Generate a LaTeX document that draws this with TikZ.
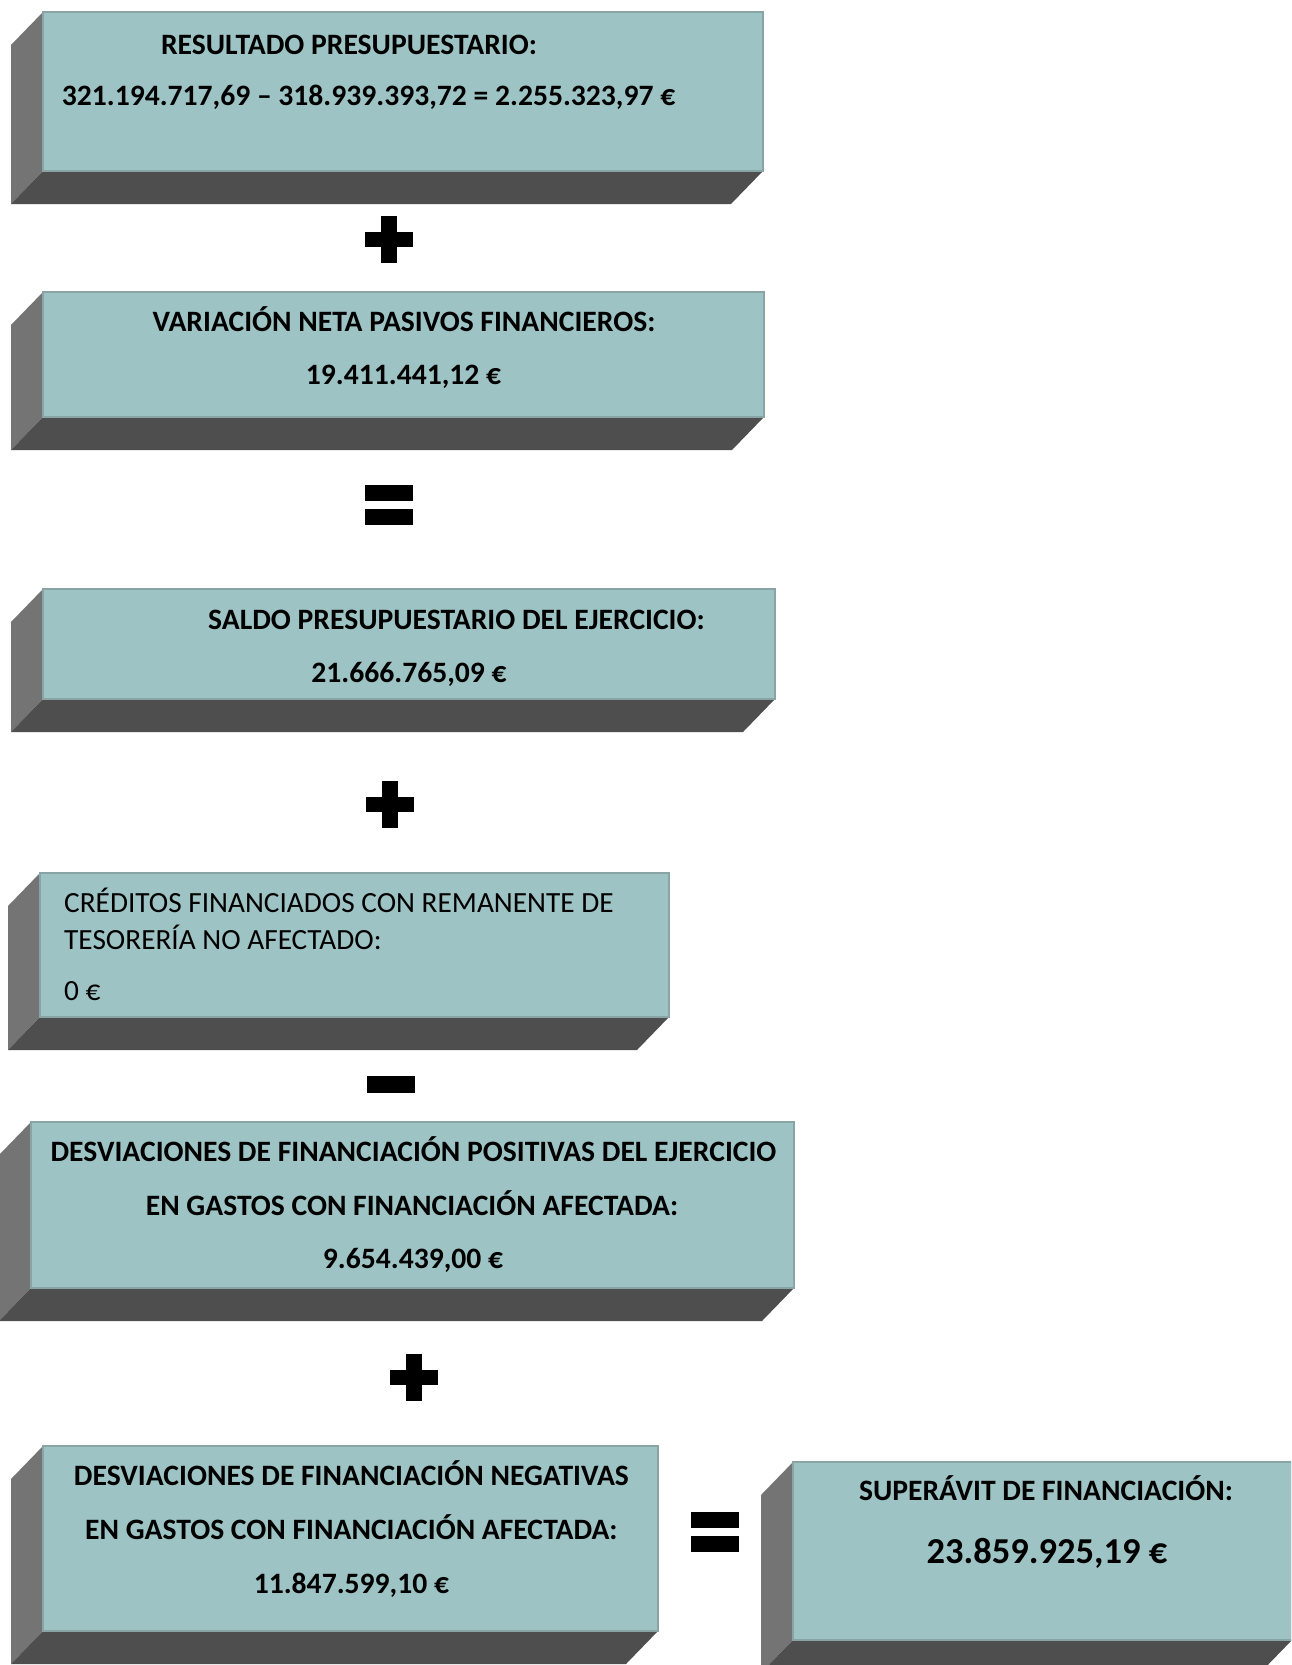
\documentclass[tikz,border=0pt]{standalone}
\usepackage{fontspec}
\setmainfont{Carlito}
\definecolor{frontcol}{RGB}{157,195,196}
\definecolor{edgecol}{RGB}{136,164,165}
\definecolor{sidecol}{RGB}{116,116,116}
\definecolor{botcol}{RGB}{78,78,78}
\tikzset{
  frontface/.style={fill=frontcol, draw=edgecol, line width=1.6pt, inner sep=0pt, outer sep=0pt, anchor=north west},
  lbl/.style={font=\bfseries\fontsize{29.6}{35}\selectfont, anchor=base, inner sep=0pt},
  lblplain/.style={font=\fontsize{29.3}{35}\selectfont, anchor=base west, inner sep=0pt},
  lblbig/.style={font=\bfseries\fontsize{36.5}{44}\selectfont, anchor=base, inner sep=0pt},
  opfill/.style={fill=black}
}
\newcommand{\slabbox}[5]{%
  \fill[sidecol] (#2,#3) -- (#2-32,#3+33) -- (#2-32,#5+33) -- (#2,#5) -- cycle;
  \fill[botcol] (#2,#5) -- (#4,#5) -- (#4-32,#5+33) -- (#2-32,#5+33) -- cycle;
  \node[frontface, minimum width={(#4-#2)*1pt}, minimum height={(#5-#3)*1pt}] (#1) at (#2,#3) {};
}
\newcommand{\plusop}[3]{%
  \coordinate (#1) at (#2,#3);
  \fill[opfill] ([shift={(-24,-7.5)}]#1) rectangle ([shift={(24,7.5)}]#1);
  \fill[opfill] ([shift={(-8,-23.5)}]#1) rectangle ([shift={(8,23.5)}]#1);
}
\newcommand{\eqop}[3]{%
  \coordinate (#1) at (#2,#3);
  \fill[opfill] ([shift={(-24,-20)}]#1) rectangle ([shift={(24,-4)}]#1);
  \fill[opfill] ([shift={(-24,4)}]#1) rectangle ([shift={(24,20)}]#1);
}
\begin{document}
\begin{tikzpicture}[x=1pt,y=-1pt]
\useasboundingbox (0,0) rectangle (1291,1665);
\clip (0,0) rectangle (1291,1665);
\fill[white] (0,0) rectangle (1291,1665);

% boxes
\slabbox{b1}{43}{12}{763}{171}
\slabbox{b2}{43}{292}{764}{417}
\slabbox{b3}{43}{589}{775}{699}
\slabbox{b4}{40}{873}{669}{1017}
\slabbox{b5}{31}{1122}{794}{1288}
\slabbox{b6}{43}{1446}{658}{1631}
\slabbox{b7}{793}{1462}{1292}{1640}

% texts
\node[lbl] (t1a) at (349,54) {RESULTADO PRESUPUESTARIO:};
\node[lbl] (t1b) at (368.5,105) {321.194.717,69 – 318.939.393,72 = 2.255.323,97 €};

\node[lbl] (t2a) at (404,331) {VARIACIÓN NETA PASIVOS FINANCIEROS:};
\node[lbl] (t2b) at (403.5,384) {19.411.441,12 €};

\node[lbl] (t3a) at (456.5,629.5) {SALDO PRESUPUESTARIO DEL EJERCICIO:};
\node[lbl] (t3b) at (409,682.5) {21.666.765,09 €};

\node[lblplain] (t4a) at (64,912) {CRÉDITOS FINANCIADOS CON REMANENTE DE};
\node[lblplain] (t4b) at (64,949) {TESORERÍA NO AFECTADO:};
\node[lblplain] (t4c) at (64,1000) {0 €};

\node[lbl] (t5a) at (413.5,1161.5) {DESVIACIONES DE FINANCIACIÓN POSITIVAS DEL EJERCICIO};
\node[lbl] (t5b) at (412,1215.5) {EN GASTOS CON FINANCIACIÓN AFECTADA:};
\node[lbl] (t5c) at (413,1268.5) {9.654.439,00 €};

\node[lbl] (t6a) at (351.4,1485) {DESVIACIONES DE FINANCIACIÓN NEGATIVAS};
\node[lbl] (t6b) at (351.4,1539.5) {EN GASTOS CON FINANCIACIÓN AFECTADA:};
\node[lbl] (t6c) at (351.4,1593.5) {11.847.599,10 €};

\node[lbl] (t7a) at (1046,1500) {SUPERÁVIT DE FINANCIACIÓN:};
\node[lblbig] (t7b) at (1047,1563) {23.859.925,19 €};

% operators
\plusop{p1}{389}{239.5}
\eqop{e1}{389}{505}
\plusop{p2}{390}{804}
\coordinate (m1) at (391,1084.5);
\fill[opfill] ([shift={(-24,-8.5)}]m1) rectangle ([shift={(24,8.5)}]m1);
\plusop{p3}{414}{1377}
\eqop{e2}{715}{1531.5}
\end{tikzpicture}
\end{document}
